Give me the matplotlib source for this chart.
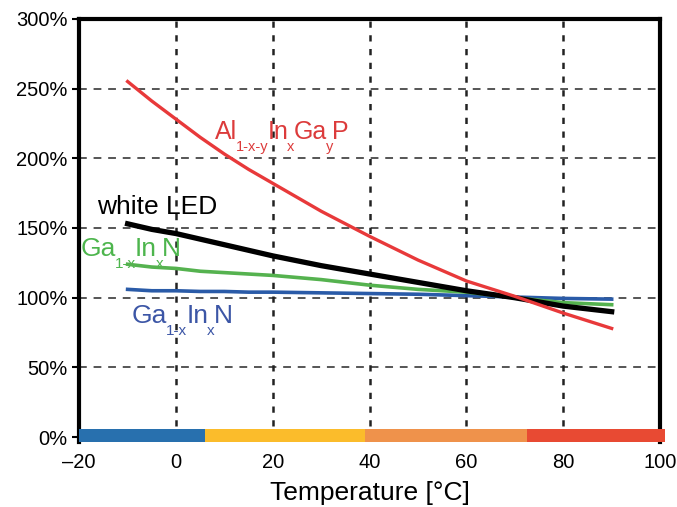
"""
Relative luminous flux vs. temperature for several LED types
"""
import matplotlib
matplotlib.use("Agg")
import matplotlib.pyplot as plt

plt.rcParams['font.family'] = ['Liberation Sans', 'DejaVu Sans']

# curve samples (temperature in °C, relative flux in %)
temp = [-10, -5, 0, 5, 10, 15, 20, 30, 40, 50, 60, 70, 80, 90]
alingap = [255, 241, 228, 215, 203, 192, 182, 162, 144, 127, 112, 101, 89, 78]
white_led = [153, 149, 146, 142, 138, 134, 130, 123, 117, 111, 105, 100, 94, 90]
gainn_green = [124, 122, 121, 119, 118, 117, 116, 113, 109, 106, 104, 100, 96.5, 95]
gainn_blue = [106, 105, 105, 104.5, 104.5, 104, 104, 103.5, 103, 102.5, 101.5, 100.5, 99.5, 99]

# temperature colour band
band_edges = [-20, 6, 39, 72.5, 101]
band_colors = ['#2870ae', '#fbbc2b', '#ef924b', '#e84a33']

xticks = [-20, 0, 20, 40, 60, 80, 100]
yticks = [0, 50, 100, 150, 200, 250, 300]


def sub_label(ax, x, y, parts, color, size, sub_size, sub_drop=8.5):
    """ Write a label piece by piece, with low small subscripts """
    fig = ax.figure
    renderer = fig.canvas.get_renderer()
    dx = 0.0
    for txt, is_sub in parts:
        t = ax.annotate(txt, (x, y), xytext=(dx, -sub_drop if is_sub else 0),
                        textcoords='offset points', color=color,
                        fontsize=sub_size if is_sub else size,
                        va='baseline', ha='left')
        w = t.get_window_extent(renderer).width
        dx += w * 72.0 / fig.dpi - 0.8


fig = plt.figure(figsize=(6.77, 5.07), dpi=100)
ax = fig.add_axes([0.117, 0.128, 0.858, 0.835])
ax.set_xlim(-20, 100)
ax.set_ylim(-3.5, 300)

# grid
for y in yticks[1:-1]:
    ax.plot([-20, 100], [y, y], color='#555555', lw=1.4, dashes=(4, 3.5), zorder=1)
for x in xticks[1:-1]:
    ax.plot([x, x], [8, 300], color='#222222', lw=1.8, dashes=(2.5, 3), zorder=1)

# colour band along the bottom
for i, c in enumerate(band_colors):
    ax.fill_between([band_edges[i], band_edges[i + 1]], -3.5, 6,
                    color=c, lw=0, clip_on=False, zorder=3)

ax.plot(temp, gainn_blue, color='#2a5ba8', lw=2.6, zorder=4)
ax.plot(temp, gainn_green, color='#55b24f', lw=2.6, zorder=4)
ax.plot(temp, white_led, color='black', lw=3.8, zorder=5)
ax.plot(temp, alingap, color='#e8393a', lw=2.4, zorder=6)

sub_label(ax, 8, 214, [('Al', 0), ('1-x-y', 1), ('In', 0), ('x', 1), ('Ga', 0),
                       ('y', 1), ('P', 0)], '#dc3b3b', 18, 10.5)
ax.text(-16.3, 160, 'white LED', color='black', fontsize=19, va='baseline')
sub_label(ax, -19.8, 130, [('Ga', 0), ('1-x', 1), ('In', 0), ('x', 1), ('N', 0)],
          '#4db54d', 19, 11)
sub_label(ax, -9.1, 82, [('Ga', 0), ('1-x', 1), ('In', 0), ('x', 1), ('N', 0)],
          '#3c56a6', 19, 11)

ax.set_xticks(xticks)
ax.set_xticklabels(['–20', '0', '20', '40', '60', '80', '100'])
ax.set_yticks(yticks)
ax.set_yticklabels([f'{v}%' for v in yticks])
ax.tick_params(axis='x', length=0, pad=8, labelsize=14.5)
ax.tick_params(axis='y', length=5, width=1.5, direction='out', labelsize=14.5)
ax.set_xlabel('Temperature [°C]', fontsize=19, labelpad=6)

for side in ['left', 'right', 'top']:
    ax.spines[side].set_linewidth(3)
ax.spines['bottom'].set_visible(False)

fig.savefig('out.png', dpi=100)
